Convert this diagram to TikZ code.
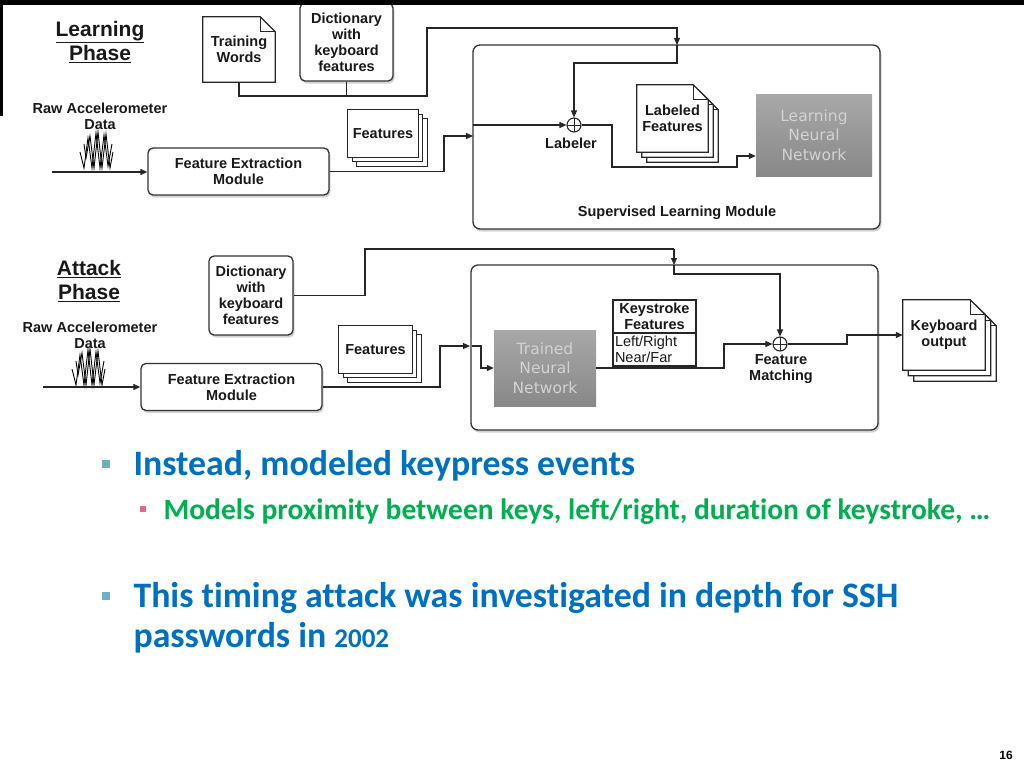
\documentclass[tikz,border=0pt]{standalone}
\usepackage{fontspec}
\setmainfont{Liberation Sans}
\newfontfamily\bodyfont[Ligatures=NoCommon]{Carlito}
\newfontfamily\dvfont{DejaVu Sans}
\usetikzlibrary{arrows.meta,shadows,backgrounds}
\definecolor{slideblue}{HTML}{0070C0}
\definecolor{slidegreen}{HTML}{00B050}
\definecolor{tealbul}{HTML}{6FB1C4}
\definecolor{pinkbul}{HTML}{E06C80}
\definecolor{gtop}{HTML}{A8A8A8}
\definecolor{gbot}{HTML}{888888}
\definecolor{gtext}{HTML}{D2D2D2}
\tikzset{
 ln/.style={line width=1.2pt, draw=black!85},
 arr/.style={ln, -{Triangle[length=7pt,width=6pt]}},
 lbl/.style={font=\fontsize{14.5}{16}\selectfont\bfseries, align=center, text=black!90},
 rbox/.style={draw=black!80, line width=1.3pt, rounded corners=5pt, fill=white,
   drop shadow={shadow xshift=1.5pt,shadow yshift=-2.5pt,opacity=.35}, lbl, inner sep=0pt},
 modbox/.style={rbox, rounded corners=7pt},
 docnode/.style={lbl, inner sep=0pt},
 gbox/.style={top color=gtop, bottom color=gbot, draw=none, text=gtext,
   font=\dvfont\fontsize{15.5}{19.5}\selectfont, align=center, inner sep=0pt},
 plusdot/.style={circle, draw=black!85, line width=1.1pt, minimum size=14pt, inner sep=0pt, fill=white,
   path picture={\draw[line width=1pt] (path picture bounding box.north) -- (path picture bounding box.south)
     (path picture bounding box.west) -- (path picture bounding box.east);}},
 phase/.style={font=\fontsize{21}{24}\selectfont\bfseries, align=center, text=black!90},
 bul/.style={anchor=base west, font=\bodyfont\bfseries\fontsize{35.8}{42}\selectfont, text=slideblue},
 subbul/.style={anchor=base west, font=\bodyfont\bfseries\fontsize{29.5}{34}\selectfont, text=slidegreen},
}
\newcommand\sheet[3]{%
 \draw[ln,fill=white] ([shift={(#3,#3)}]#1.south west) -- ([shift={(#3,#3)}]#1.north west)
   -- ([shift={(#3-#2,#3)}]#1.north east) -- ([shift={(#3,#3+#2)}]#1.north east)
   -- ([shift={(#3,#3)}]#1.south east) -- cycle;
 \ifdim#2pt>0pt \draw[ln] ([shift={(#3-#2,#3)}]#1.north east) |- ([shift={(#3,#3+#2)}]#1.north east);\fi}
\newcommand\zigwave{%
 \draw[line width=0.9pt] (0,20) -- (4,36) -- (8,6) -- (12,36) -- (16,1) -- (20,36) -- (24,3) -- (28,34) -- (32,12);
 \draw[line width=0.9pt] (4,12) -- (6,26) -- (10,4) -- (14,36) -- (18,0) -- (22,36) -- (26,2) -- (30,36) -- (33,20);}
\begin{document}
\begin{tikzpicture}[x=1pt,y=-1pt]
\useasboundingbox (0,0) rectangle (1024,768);

% ---------- modules (background) ----------
\begin{pgfonlayer}{background}
\fill[white] (0,0) rectangle (1024,768);
\node[modbox, minimum width=407pt, minimum height=184pt] (slm) at (676.5,137) {};
\node[modbox, minimum width=407pt, minimum height=165pt] (atm) at (674.5,347.5) {};
\end{pgfonlayer}

% ---------- Learning phase ----------
\node[phase] (lp) at (100,42) {\underline{Learning}\\\underline{Phase}};
\node[lbl] (raw1) at (100,116) {Raw Accelerometer\\Data};
\begin{scope}[shift={(80,132)}]\zigwave\end{scope}

\node[docnode, minimum width=72pt, minimum height=65pt] (tw) at (239,49.5) {Training\\Words};
\node[rbox, minimum width=93pt, minimum height=78pt] (dict1) at (346.5,42) {Dictionary\\with\\keyboard\\features};
\node[rbox, minimum width=181pt, minimum height=47pt] (fem1) at (238.5,171.5) {Feature Extraction\\Module};
\node[docnode, minimum width=70pt, minimum height=47pt] (feat1) at (383,133.5) {Features};
\node[docnode, minimum width=71pt, minimum height=67pt] (lf) at (672.5,118.5) {Labeled\\Features};
\node[gbox, minimum width=116pt, minimum height=82pt] (lnn) at (814,135) {Learning\\Neural\\Network};
\node[plusdot] (lab) at (574,125) {};
\node[lbl] (labt) at (571,143) {Labeler};
\node[lbl] (slmt) at (677,213) {Supervised Learning Module};

\begin{pgfonlayer}{background}
\sheet{tw}{15}{0}
\sheet{feat1}{0}{9}\sheet{feat1}{0}{4.5}\sheet{feat1}{0}{0}
\sheet{lf}{15}{10}\sheet{lf}{15}{5}\sheet{lf}{15}{0}
\end{pgfonlayer}

\coordinate (in1) at (52,172);
\coordinate (j0) at (427,96);
\coordinate (j1) at (677,28);
\coordinate (e1) at (677,45);
\coordinate (e2) at (473,136);
\coordinate (e3) at (473,125);
\draw[arr] (in1) -- (fem1.west |- in1);
\draw[ln] (dict1.south) -- (dict1.south |- j0);
\draw[arr] (tw.south) |- (j0) |- (j1) -- (e1);
\draw[arr] (e1) -- (677,63) -| (lab.north);
\draw[arr] (fem1.east) -- (444,171.5) |- (e2);
\draw[arr] (e3) -- (lab.west);
\draw[arr] (lab.east) -- (612,125) -- (612,167) -- (737,167) |- ([yshift=-21pt]lnn.west);

% ---------- Attack phase ----------
\node[phase] (ap) at (89,281) {\underline{Attack}\\\underline{Phase}};
\node[lbl] (raw2) at (90,335) {Raw Accelerometer\\Data};
\begin{scope}[shift={(72,349)}]\zigwave\end{scope}
\node[rbox, minimum width=84pt, minimum height=79pt] (dict2) at (251,295.5) {Dictionary\\with\\keyboard\\features};
\node[rbox, minimum width=181pt, minimum height=47pt] (fem2) at (231.5,387) {Feature Extraction\\Module};
\node[docnode, minimum width=73pt, minimum height=47pt] (feat2) at (375.5,349.5) {Features};
\node[gbox, minimum width=102pt, minimum height=76pt] (tnn) at (545,368) {Trained\\Neural\\Network};
\node[draw=black!85, line width=1.2pt, fill=white, lbl, minimum width=83pt, minimum height=33pt, inner sep=0pt] (ksh) at (654.5,316.5) {Keystroke\\Features};
\node[draw=black!85, line width=1.2pt, fill=white, font=\fontsize{14.5}{16}\selectfont, text=black!90,
  text width=79pt, align=left, minimum height=33pt, inner xsep=2pt, inner ysep=0pt] (ksb) at (654.5,349.5) {Left/Right\\Near/Far};
\node[plusdot] (fm) at (780,344) {};
\node[lbl] (fmt) at (781,369) {Feature\\Matching};
\node[docnode, minimum width=82pt, minimum height=70pt] (kbo) at (944,335) {Keyboard\\output};

\begin{pgfonlayer}{background}
\sheet{feat2}{0}{9}\sheet{feat2}{0}{4.5}\sheet{feat2}{0}{0}
\sheet{kbo}{15}{11}\sheet{kbo}{15}{5.5}\sheet{kbo}{15}{0}
\end{pgfonlayer}

\coordinate (in2) at (43,387);
\coordinate (k0) at (365,249);
\coordinate (k1) at (674,249);
\coordinate (e4) at (674,265);
\coordinate (e5) at (470,346);
\coordinate (e6) at (472,346);
\draw[arr] (in2) -- (fem2.west);
\draw[ln] (dict2.east) -| (k0) -- (k1);
\draw[arr] (k1) -- (e4);
\draw[arr] (e4) -- (674,274) -| (fm.north);
\draw[arr] (fem2.east) -- (440,387) |- (e5);
\draw[arr] (e6) -- (481,346) |- (tnn.west);
\draw[arr] (tnn.east) -- (724,368) |- (fm.west);
\draw[arr] (fm.east) -- (847,344) |- (kbo.west);

% ---------- frame bits ----------
\fill[black] (0,0) rectangle (1024,5);
\fill[black] (0,0) rectangle (3,116);

% ---------- bullets ----------
\fill[tealbul] (102,460) rectangle (110,468);
\node[bul] (b1) at (130,475) {Instead, modeled keypress events};
\fill[pinkbul] (140,506) rectangle (146,512);
\node[subbul] (b1a) at (160,519) {Models proximity between keys, left/right, duration of keystroke, \dots};
\fill[tealbul] (102,592) rectangle (110,600);
\node[bul] (b2) at (130,607) {This timing attack was investigated in depth for SSH};
\node[bul] (b2b) at (130,647) {passwords in {\fontsize{27}{42}\selectfont 2002}};
\node[anchor=base, font=\fontsize{12}{14}\selectfont\bfseries] (pg) at (1006,759) {16};
\end{tikzpicture}
\end{document}
